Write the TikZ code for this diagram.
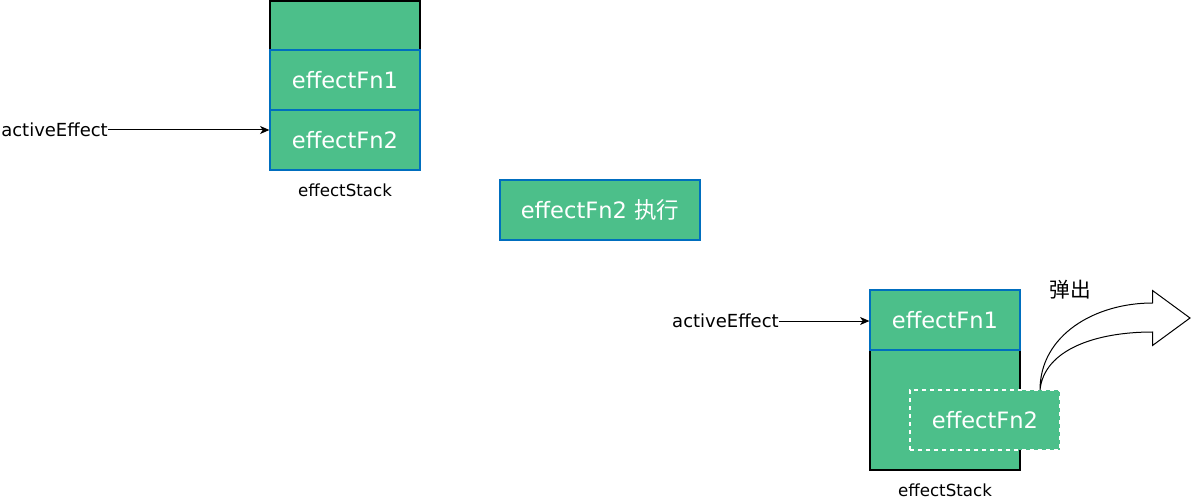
\documentclass[tikz,border=0pt]{standalone}
\usepackage{fontspec}
\setmainfont{DejaVu Sans}
\newfontfamily\cjk{Noto Sans CJK SC}
\usetikzlibrary{arrows.meta}
\definecolor{fngreen}{RGB}{76,191,138}
\definecolor{fnblue}{RGB}{0,110,190}
\tikzset{
  px/.style={x=0.75pt,y=-0.75pt},
  stackbox/.style={draw=black,fill=fngreen,line width=0.9pt,inner sep=0pt,minimum width=112.5pt},
  fnbox/.style={draw=fnblue,fill=fngreen,line width=0.9pt,inner sep=0pt,minimum width=112.5pt,minimum height=45pt,text=white,font=\fontsize{16.9}{20}\selectfont},
  popbox/.style={draw=white,dashed,fill=fngreen,line width=0.9pt,inner sep=0pt,minimum width=112.5pt,minimum height=45pt,text=white,font=\fontsize{16.9}{20}\selectfont},
  lbl/.style={inner sep=0pt,font=\fontsize{12.5}{15}\selectfont},
  ptr/.style={inner sep=0pt,font=\fontsize{13.5}{16}\selectfont},
  link/.style={-{Stealth[length=7pt,width=6pt,inset=2pt]},line width=0.75pt},
}
\begin{document}
\begin{tikzpicture}[px]
\useasboundingbox (0,0) rectangle (1191,502);
% stack 1
\node[stackbox,minimum height=126.75pt] (stackA) at (345,85.5) {};
\node[fnbox] (a1) at (345,80) {effectFn1};
\node[fnbox] (a2) at (345,140) {effectFn2};
\node[lbl] (labA) at (345,190) {effectStack};
\node[ptr,anchor=west] (actA) at (1,130) {activeEffect};
\draw[link] (actA.east) -- (actA.east -| a2.west);
% middle
\node[fnbox,minimum width=150pt] (run) at (600,210) {effectFn2 {\cjk 执行}};
% stack 2
\node[stackbox,minimum height=135pt] (stackB) at (945,380) {};
\node[fnbox] (b1) at (945,320) {effectFn1};
\node[popbox] (b2) at (985,420) {effectFn2};
\node[lbl] (labB) at (945,490) {effectStack};
\node[ptr,anchor=east] (actB) at (779,321) {activeEffect};
\draw[link] (actB.east) -- (actB.east -| b1.west);
\node[inner sep=0pt,font=\cjk\fontsize{15.5}{18}\selectfont] (pop) at (1070,290) {弹出};
% pop arrow
\coordinate (start) at (1040,390);
\draw[line width=0.75pt,line join=miter]
  (start) .. controls (1040,335) and (1095,303) .. (1152.5,303)
  -- (1152.5,290.5) -- (1190,318) -- (1152.5,345.5) -- (1152.5,332)
  .. controls (1095,332) and (1044,350) .. (start);
\end{tikzpicture}
\end{document}
